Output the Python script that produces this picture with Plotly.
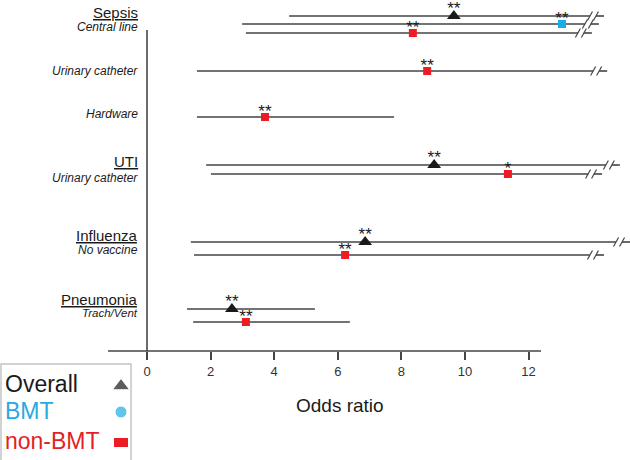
import plotly.graph_objects as go

# ---------------- data ----------------
infection = ["Sepsis", "UTI", "Influenza", "Pneumonia"]
risk_factor = ["Central line", "Urinary catheter", "Hardware", "Urinary catheter", "No vaccine", "Trach/Vent"]

row_group = ["Overall", "BMT", "non-BMT", "non-BMT", "non-BMT",
             "Overall", "non-BMT", "Overall", "non-BMT", "Overall", "non-BMT"]
odds_ratio = [9.65, 13.05, 8.36, 8.81, 3.71, 9.03, 11.35, 6.86, 6.23, 2.67, 3.11]
ci_low = [4.47, 2.99, 3.11, 1.57, 1.57, 1.86, 2.01, 1.38, 1.48, 1.26, 1.45]
ci_high = [14.37, 14.21, 13.99, 14.47, 7.77, 14.87, 14.31, 15.19, 14.37, 5.28, 6.38]
off_scale = [True, True, True, True, False, True, True, True, True, False, False]
signif = ["**", "**", "**", "**", "**", "**", "*", "**", "**", "**", "**"]

tick_values = [0, 2, 4, 6, 8, 10, 12]
legend_names = ["Overall", "BMT", "non-BMT"]

# ---------------- layout helpers ----------------
W, H = 630, 460
PX_PER_UNIT = 31.8
X0_PX = 147
def dx(px):  # pixel distance -> data units
    return px / PX_PER_UNIT
def xd(px):  # pixel x -> data x
    return (px - X0_PX) / PX_PER_UNIT

row_y = [16, 24, 33, 71, 117, 165, 174, 242, 255, 309, 322]
label_pos = [  # (text, y, size, kind)
    (infection[0], 13, 15, "title"), (risk_factor[0], 27, 12, "sub"),
    (risk_factor[1], 71, 12, "sub"), (risk_factor[2], 114, 12, "sub"),
    (infection[1], 162, 15, "title"), (risk_factor[3], 178, 12, "sub"),
    (infection[2], 235, 15, "title"), (risk_factor[4], 250, 12, "sub"),
    (infection[3], 299, 15, "title"), (risk_factor[5], 313, 11.5, "sub"),
]

FONT = "Liberation Sans, Arial, Helvetica, sans-serif"
LINE = "#454545"
style = {
    "Overall": dict(symbol="triangle-up", size=12, color="#1a1a1a", star_off=6.5),
    "BMT": dict(symbol="square", size=8, color="#1cade4", star_off=4.5),
    "non-BMT": dict(symbol="square", size=8, color="#ec1c24", star_off=4.5),
}

fig = go.Figure()

# CI lines
lx, ly = [], []
bx, by = [], []
for lo, hi, brk, y in zip(ci_low, ci_high, off_scale, row_y):
    if brk:
        s1 = hi - dx(14)
        s2 = hi - dx(8)
        lx += [lo, s1, None, s2, hi, None]
        ly += [y, y, None, y, y, None]
        for s in (s1, s2):
            bx += [s - dx(2.5), s + dx(2.5), None]
            by += [y + 4.5, y - 4.5, None]
    else:
        lx += [lo, hi, None]
        ly += [y, y, None]
fig.add_trace(go.Scatter(x=lx, y=ly, mode="lines", line=dict(color=LINE, width=1.6),
                         hoverinfo="skip", showlegend=False))
fig.add_trace(go.Scatter(x=bx, y=by, mode="lines", line=dict(color=LINE, width=1.2),
                         hoverinfo="skip", showlegend=False))

# markers and stars
for g in legend_names:
    st = style[g]
    idx = [i for i, r in enumerate(row_group) if r == g]
    fig.add_trace(go.Scatter(
        x=[odds_ratio[i] for i in idx], y=[row_y[i] for i in idx], mode="markers",
        marker=dict(symbol=st["symbol"], size=st["size"], color=st["color"], line=dict(width=0)),
        name=g, showlegend=False, cliponaxis=False))
    fig.add_trace(go.Scatter(
        x=[odds_ratio[i] for i in idx], y=[row_y[i] - st["star_off"] for i in idx],
        mode="text", text=[signif[i] for i in idx], textposition="middle center",
        textfont=dict(family=FONT, size=17, color="#1a1a1a"),
        showlegend=False, hoverinfo="skip", cliponaxis=False))

annotations = []
for text, y, size, kind in label_pos:
    t = f"<u>{text}</u>" if kind == "title" else f"<i>{text}</i>"
    annotations.append(dict(x=140 / W, y=1 - y / H, xref="paper", yref="paper", text=t,
                            showarrow=False, xanchor="right", yanchor="middle",
                            font=dict(family=FONT, size=size, color="#1a1a1a")))

annotations.append(dict(x=340 / W, y=1 - 405 / H, xref="paper", yref="paper", text="Odds ratio",
                        showarrow=False, xanchor="center", yanchor="middle",
                        font=dict(family=FONT, size=19, color="#1a1a1a")))

# legend (symbols to the right of text)
leg_y = [384, 411, 441]
leg_col = ["#1a1a1a", "#29a9e0", "#e31e24"]
for name, y, c in zip(legend_names, leg_y, leg_col):
    annotations.append(dict(x=3 / W, y=1 - y / H, xref="paper", yref="paper", text=name,
                            showarrow=False, xanchor="left", yanchor="middle",
                            font=dict(family=FONT, size=23, color=c)))
fig.add_trace(go.Scatter(x=[xd(121), xd(121)], y=[386, 412], mode="markers",
                         marker=dict(symbol=["triangle-up", "circle"], size=[15, 12],
                                     color=[style["Overall"]["color"], style["BMT"]["color"]]),
                         showlegend=False, hoverinfo="skip", cliponaxis=False))

shapes = [
    # vertical axis line at x=0
    dict(type="line", xref="x", yref="y", x0=0, x1=0, y0=30, y1=351, line=dict(color=LINE, width=1.6)),
    # horizontal axis line
    dict(type="line", xref="x", yref="y", x0=xd(108), x1=xd(541), y0=351, y1=351, line=dict(color=LINE, width=1.6)),
    # legend box
    dict(type="rect", xref="paper", yref="paper", x0=1 / W, x1=131 / W, y0=1 - 364 / H, y1=-0.01,
         line=dict(color="#c4c4c4", width=1.5), fillcolor="rgba(0,0,0,0)"),
    # non-BMT legend square
    dict(type="rect", xref="x", yref="y", x0=xd(114), x1=xd(128), y0=438, y1=447,
         line=dict(width=0), fillcolor=style["non-BMT"]["color"]),
]

fig.update_layout(
    width=W, height=H, margin=dict(l=0, r=0, t=0, b=0),
    paper_bgcolor="white", plot_bgcolor="white",
    xaxis=dict(range=[xd(0), xd(W)], showgrid=False, zeroline=False, showline=False,
               tickmode="array", tickvals=tick_values, ticktext=[str(v) for v in tick_values],
               ticks="outside", ticklen=8, tickwidth=1.6, tickcolor=LINE,
               tickfont=dict(family=FONT, size=13, color="#333333"),
               anchor="free", position=1 - 351 / H, fixedrange=True),
    yaxis=dict(range=[H, 0], visible=False, fixedrange=True),
    annotations=annotations, shapes=shapes, showlegend=False,
)

fig.write_html("out.html", config={"displayModeBar": False},
               post_script="document.body.style.margin='0';document.body.style.overflow='hidden';")
